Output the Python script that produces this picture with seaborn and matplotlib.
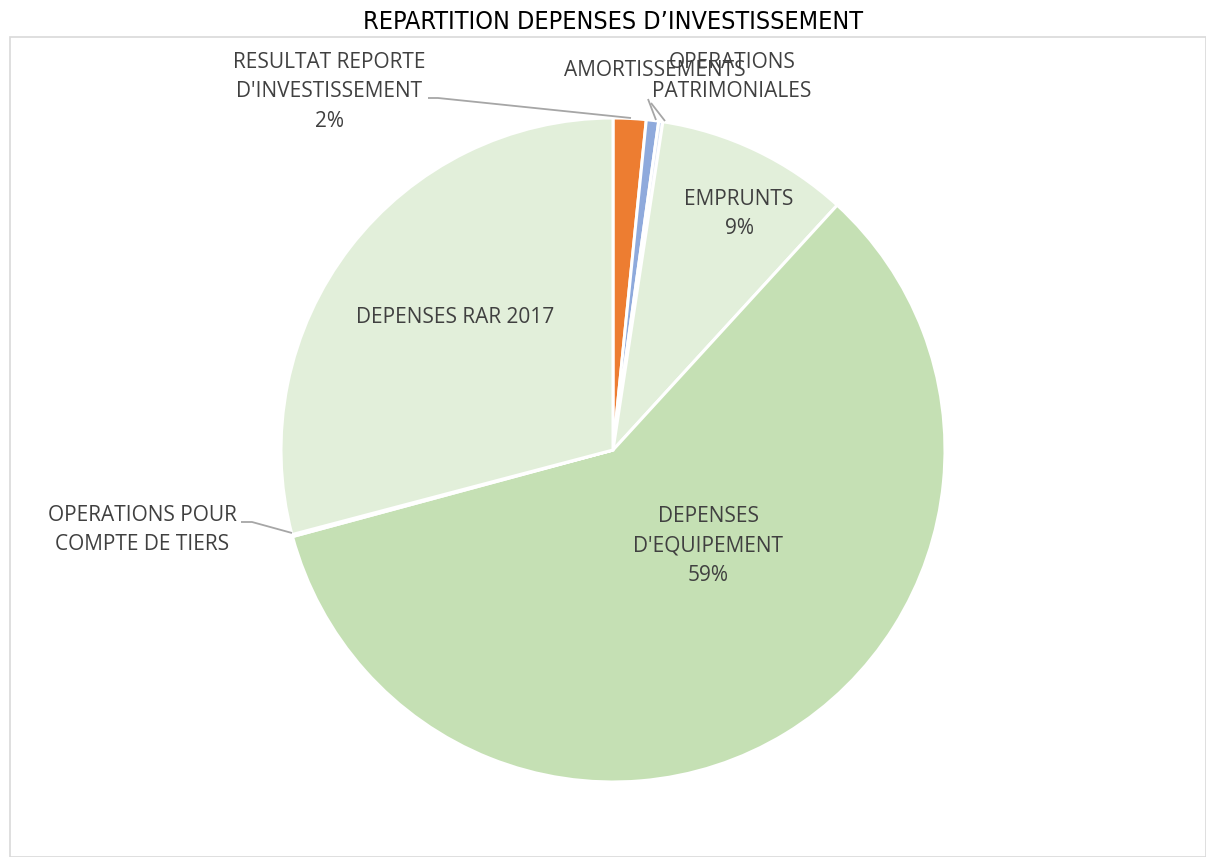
import matplotlib
matplotlib.use("Agg")
import matplotlib.pyplot as plt
from matplotlib.patches import Rectangle
import seaborn as sns

# Investment spending breakdown (share of total, %)
categories = [
    "RESULTAT REPORTE\nD'INVESTISSEMENT",
    "AMORTISSEMENTS",
    "OPERATIONS\nPATRIMONIALES",
    "EMPRUNTS",
    "DEPENSES\nD'EQUIPEMENT",
    "OPERATIONS POUR\nCOMPTE DE TIERS",
    "DEPENSES RAR 2017",
]
shares = [1.6, 0.6, 0.2, 9.4, 59.0, 0.1, 29.1]
show_pct = [True, False, False, True, True, False, False]
title = "REPARTITION DEPENSES D\u2019INVESTISSEMENT"

sns.set_theme(style="white")
colors = ["#ED7D31", "#8FAADC", "#DAE3F3", "#E2EFDA", "#C5E0B4", "#C5E0B4", "#E2EFDA"]

W, H = 1206, 857
CX, CY, R = 613, 450, 332

fig = plt.figure(figsize=(W / 100, H / 100), dpi=100)
fig.patch.set_facecolor("white")

# chart frame
fig.add_artist(Rectangle((10 / W, 0), (W - 10) / W, (H - 37) / H, transform=fig.transFigure,
                         fill=False, edgecolor="#D9D9D9", linewidth=1.2))

ax = fig.add_axes([0, 0, 1, 1])
ax.pie(shares, colors=colors, startangle=90, counterclock=False, radius=1.0,
       wedgeprops=dict(edgecolor="white", linewidth=2.2))
ax.set_xlim(-CX / R, (W - CX) / R)
ax.set_ylim(-(H - CY) / R, CY / R)
ax.set_aspect("equal", adjustable="datalim")
ax.axis("off")


def px(x, y):
    return (x - CX) / R, (CY - y) / R


total = sum(shares)
label_pos = [(329, 92), (655, 71), (732, 77), (739, 214), (708, 546), (142, 530), (455, 318)]
label_color = "#404040"
for name, v, flag, (lx, ly) in zip(categories, shares, show_pct, label_pos):
    txt = name + (f"\n{round(v / total * 100)}%" if flag else "")
    x, y = px(lx, ly)
    ax.text(x, y, txt, ha="center", va="center", fontsize=15, color=label_color,
            family=["Open Sans", "DejaVu Sans"], linespacing=1.52)

# leader lines
leaders = [
    [(428, 98), (438, 98), (631, 118)],
    [(648, 99), (656, 120)],
    [(651, 103), (665, 121)],
    [(241, 522), (252, 522), (292, 533)],
]
for pts in leaders:
    xs, ys = zip(*[px(a, b) for a, b in pts])
    ax.plot(xs, ys, color="#A6A6A6", linewidth=1.3, solid_capstyle="butt")

fig.text(613 / W, 1 - 22 / H, title, ha="center", va="center", fontsize=18, color="black",
         family=["DejaVu Sans"], fontstretch="condensed")

fig.savefig("out.png", dpi=100, facecolor="white")
